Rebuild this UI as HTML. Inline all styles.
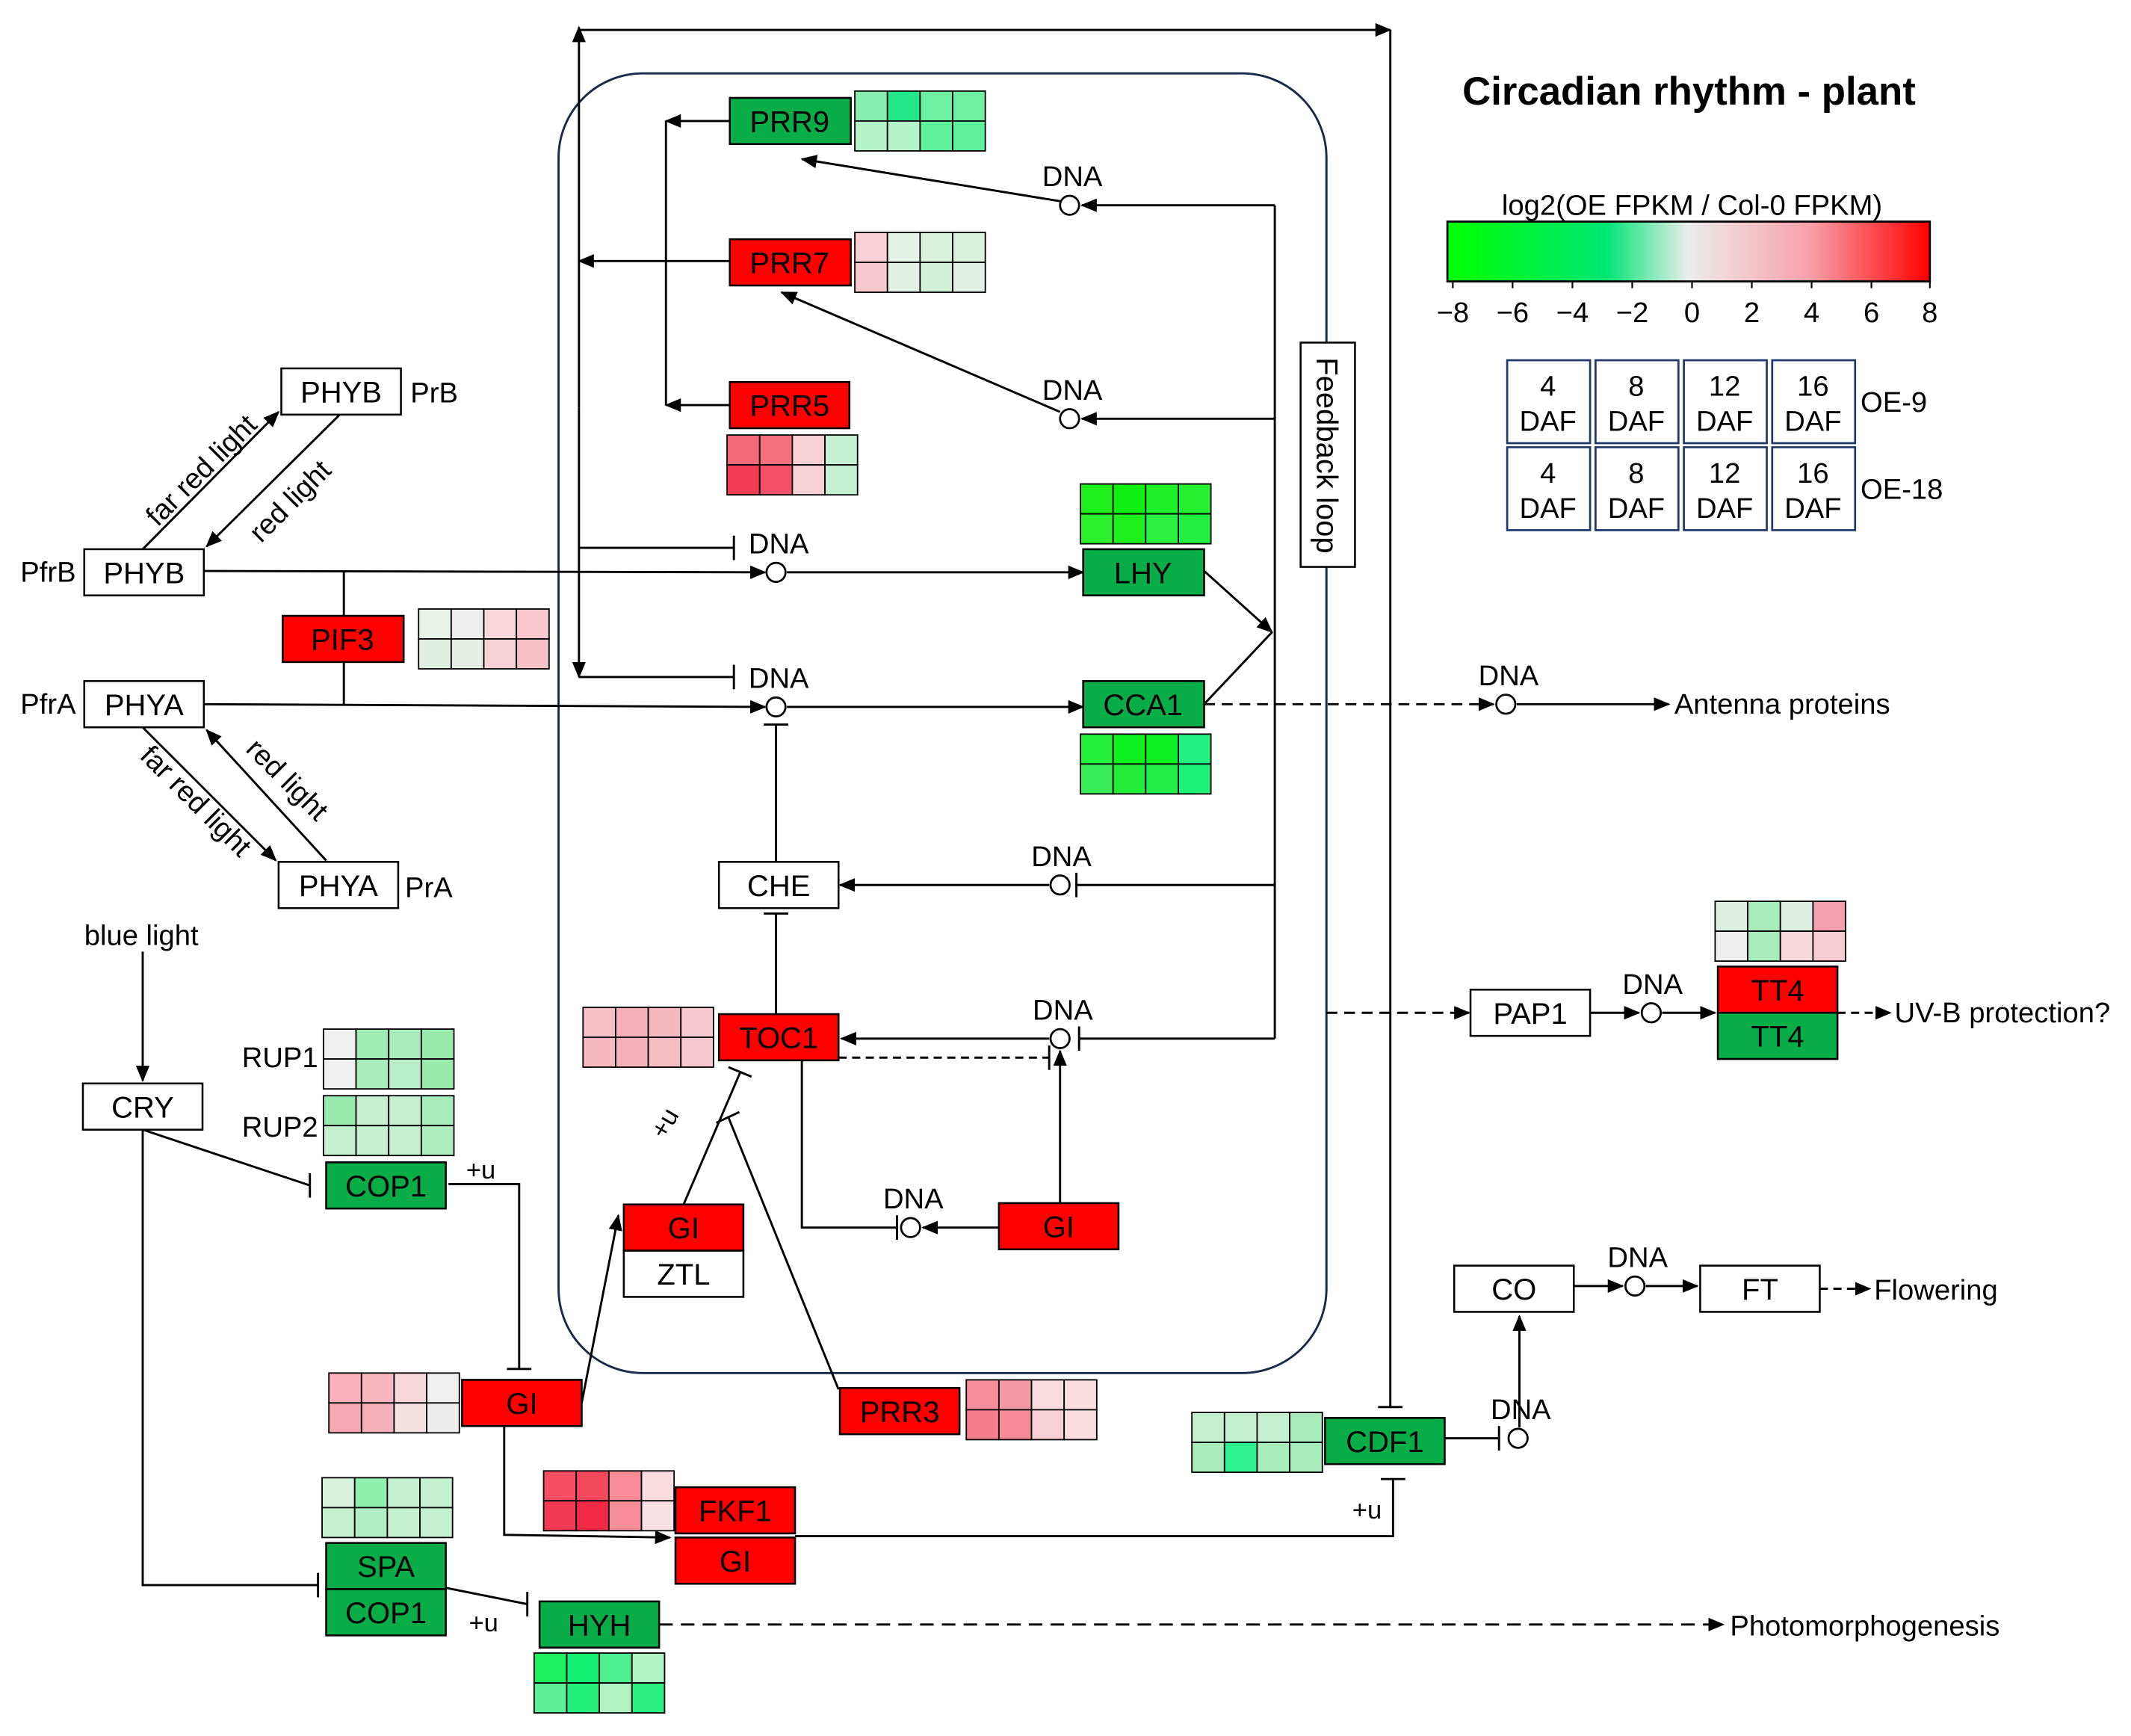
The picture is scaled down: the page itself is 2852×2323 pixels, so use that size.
<!DOCTYPE html>
<html><head><meta charset="utf-8"><style>
html,body{margin:0;padding:0;background:#fff;}
svg{display:block;}
text{font-family:"Liberation Sans",Arial,sans-serif;}
</style></head><body>
<svg width="2852" height="2323" viewBox="0 0 1568 1277" preserveAspectRatio="none" xmlns="http://www.w3.org/2000/svg">
<defs>
<marker id="a" markerUnits="userSpaceOnUse" markerWidth="12" markerHeight="10" refX="11" refY="5" orient="auto"><path d="M0,0 L12,5 L0,10 z" fill="#000"/></marker>
<linearGradient id="g" x1="0" x2="1" y1="0" y2="0">
<stop offset="0" stop-color="#00ff00"/><stop offset="0.33" stop-color="#00e676"/><stop offset="0.5" stop-color="#ececec"/><stop offset="0.75" stop-color="#f7a0aa"/><stop offset="1" stop-color="#ff0000"/></linearGradient>
</defs>
<rect width="1568" height="1277" fill="#fff"/>
<g stroke="#000" stroke-width="1.6" fill="none">
<rect x="411" y="54" width="565" height="956" rx="62" stroke="#1a2a4a"/>
<line x1="426" y1="22" x2="1023" y2="22" marker-end="url(#a)"/>
<line x1="426" y1="300" x2="426" y2="20" marker-end="url(#a)"/>
<line x1="426" y1="300" x2="426" y2="498" marker-end="url(#a)"/>
<line x1="1023" y1="22" x2="1023" y2="1035"/><line x1="1014" y1="1035" x2="1032" y2="1035"/>
<line x1="426" y1="403" x2="540" y2="403"/><line x1="540" y1="394" x2="540" y2="412"/>
<line x1="426" y1="498" x2="540" y2="498"/><line x1="540" y1="489" x2="540" y2="507"/>
<line x1="490" y1="89" x2="490" y2="298"/>
<line x1="537" y1="89" x2="490" y2="89" marker-end="url(#a)"/>
<line x1="537" y1="298" x2="490" y2="298" marker-end="url(#a)"/>
<line x1="537" y1="192" x2="426" y2="192" marker-end="url(#a)"/>
<line x1="938" y1="151" x2="938" y2="764"/>
<line x1="938" y1="151" x2="796" y2="151" marker-end="url(#a)"/>
<line x1="938" y1="308" x2="796" y2="308" marker-end="url(#a)"/>
<line x1="938" y1="651" x2="792" y2="651"/><line x1="792" y1="642" x2="792" y2="660"/>
<line x1="938" y1="764" x2="794" y2="764"/><line x1="794" y1="755" x2="794" y2="773"/>
<line x1="886" y1="420" x2="936" y2="465" marker-end="url(#a)"/>
<line x1="886" y1="518" x2="936" y2="465"/>
<line x1="780" y1="148" x2="590" y2="117" marker-end="url(#a)"/>
<line x1="780" y1="303" x2="575" y2="215" marker-end="url(#a)"/>
<line x1="150" y1="420" x2="563" y2="421" marker-end="url(#a)"/>
<line x1="579" y1="421" x2="797" y2="421" marker-end="url(#a)"/>
<line x1="150" y1="518" x2="563" y2="520" marker-end="url(#a)"/>
<line x1="579" y1="520" x2="797" y2="520" marker-end="url(#a)"/>
<line x1="253" y1="420" x2="253" y2="453"/><line x1="253" y1="487" x2="253" y2="518"/>
<line x1="105" y1="404" x2="205" y2="303" marker-end="url(#a)"/>
<line x1="250" y1="305" x2="152" y2="402" marker-end="url(#a)"/>
<line x1="105" y1="535" x2="203" y2="633" marker-end="url(#a)"/>
<line x1="240" y1="633" x2="152" y2="537" marker-end="url(#a)"/>
<line x1="571" y1="634" x2="571" y2="533"/><line x1="562" y1="533" x2="580" y2="533"/>
<line x1="772" y1="651" x2="618" y2="651" marker-end="url(#a)"/>
<line x1="571" y1="746" x2="571" y2="672"/><line x1="562" y1="672" x2="580" y2="672"/>
<line x1="772" y1="764" x2="619" y2="764" marker-end="url(#a)"/>
<line x1="617" y1="778" x2="772" y2="778" stroke-dasharray="6,4"/><line x1="772" y1="769" x2="772" y2="787"/>
<line x1="780" y1="885" x2="780" y2="773" marker-end="url(#a)"/>
<polyline points="590,780 590,903 660,903"/><line x1="660" y1="894" x2="660" y2="912"/>
<line x1="735" y1="903" x2="679" y2="903" marker-end="url(#a)"/>
<line x1="503" y1="886" x2="545" y2="788"/><line x1="536" y1="785" x2="553" y2="792"/>
<line x1="617" y1="1022" x2="536" y2="822"/><line x1="527" y1="826" x2="544" y2="818"/>
<line x1="428" y1="1032" x2="455" y2="894" marker-end="url(#a)"/>
<polyline points="330,871 382,871 382,1007"/><line x1="373" y1="1007" x2="391" y2="1007"/>
<line x1="105" y1="831" x2="228" y2="872"/><line x1="228" y1="863" x2="228" y2="881"/>
<polyline points="105,831 105,1166 234,1166"/><line x1="234" y1="1157" x2="234" y2="1175"/>
<line x1="105" y1="700" x2="105" y2="795" marker-end="url(#a)"/>
<line x1="328" y1="1168" x2="388" y2="1180"/><line x1="388" y1="1171" x2="388" y2="1189"/>
<line x1="485" y1="1195" x2="1268" y2="1195" stroke-dasharray="10,6" marker-end="url(#a)"/>
<polyline points="371,1049 371,1129 493,1131" marker-end="url(#a)"/>
<polyline points="585,1130 1025,1130 1025,1088"/><line x1="1016" y1="1088" x2="1034" y2="1088"/>
<line x1="1063" y1="1058" x2="1103" y2="1058"/><line x1="1103" y1="1049" x2="1103" y2="1067"/>
<line x1="1118" y1="1050" x2="1118" y2="968" marker-end="url(#a)"/>
<line x1="1158" y1="946" x2="1194" y2="946" marker-end="url(#a)"/>
<line x1="1211" y1="946" x2="1249" y2="946" marker-end="url(#a)"/>
<line x1="1339" y1="948" x2="1376" y2="948" stroke-dasharray="6,4" marker-end="url(#a)"/>
<line x1="886" y1="518" x2="1099" y2="518" stroke-dasharray="8,5" marker-end="url(#a)"/>
<line x1="1116" y1="518" x2="1228" y2="518" marker-end="url(#a)"/>
<line x1="976" y1="745" x2="1081" y2="745" stroke-dasharray="8,5" marker-end="url(#a)"/>
<line x1="1170" y1="745" x2="1206" y2="745" marker-end="url(#a)"/>
<line x1="1223" y1="745" x2="1262" y2="745" marker-end="url(#a)"/>
<line x1="1352" y1="745" x2="1391" y2="745" stroke-dasharray="6,4" marker-end="url(#a)"/>
</g>
<g stroke="#000" stroke-width="1.5" fill="#fff">
<circle cx="787" cy="151" r="7"/><circle cx="787" cy="308" r="7"/><circle cx="571" cy="421" r="7"/><circle cx="571" cy="520" r="7"/><circle cx="780" cy="651" r="7"/><circle cx="780" cy="764" r="7"/><circle cx="670" cy="903" r="7"/><circle cx="1108" cy="518" r="7"/><circle cx="1215" cy="745" r="7"/><circle cx="1203" cy="946" r="7"/><circle cx="1117" cy="1058" r="7"/>
</g>
<g font-size="21" fill="#000" text-anchor="middle">
<text x="789" y="137">DNA</text><text x="789" y="294">DNA</text><text x="573" y="407">DNA</text><text x="573" y="506">DNA</text><text x="781" y="637">DNA</text><text x="782" y="750">DNA</text><text x="672" y="889">DNA</text><text x="1110" y="504">DNA</text><text x="1216" y="731">DNA</text><text x="1205" y="932">DNA</text><text x="1119" y="1044">DNA</text>
</g>
<g stroke="#000" stroke-width="1.4">
<rect x="537" y="72" width="89" height="34" fill="#08ad48"/>
<rect x="537" y="176" width="89" height="34" fill="#ff0000"/>
<rect x="537" y="281" width="88" height="34" fill="#ff0000"/>
<rect x="797" y="404" width="89" height="34" fill="#08ad48"/>
<rect x="797" y="501" width="89" height="34" fill="#08ad48"/>
<rect x="208" y="453" width="89" height="34" fill="#ff0000"/>
<rect x="529" y="634" width="88" height="34" fill="#fff"/>
<rect x="529" y="746" width="88" height="34" fill="#ff0000"/>
<rect x="459" y="886" width="88" height="34" fill="#ff0000"/>
<rect x="459" y="920" width="88" height="34" fill="#fff"/>
<rect x="735" y="885" width="88" height="34" fill="#ff0000"/>
<rect x="618" y="1021" width="88" height="34" fill="#ff0000"/>
<rect x="340" y="1015" width="88" height="34" fill="#ff0000"/>
<rect x="497" y="1094" width="88" height="34" fill="#ff0000"/>
<rect x="497" y="1131" width="88" height="34" fill="#ff0000"/>
<rect x="240" y="1135" width="88" height="34" fill="#08ad48"/>
<rect x="240" y="1169" width="88" height="34" fill="#08ad48"/>
<rect x="397" y="1178" width="88" height="34" fill="#08ad48"/>
<rect x="240" y="855" width="88" height="34" fill="#08ad48"/>
<rect x="975" y="1043" width="88" height="34" fill="#08ad48"/>
<rect x="1264" y="711" width="88" height="34" fill="#ff0000"/>
<rect x="1264" y="745" width="88" height="34" fill="#08ad48"/>
<rect x="207" y="271" width="88" height="34" fill="#fff"/>
<rect x="62" y="404" width="88" height="34" fill="#fff"/>
<rect x="62" y="501" width="88" height="34" fill="#fff"/>
<rect x="205" y="634" width="88" height="34" fill="#fff"/>
<rect x="61" y="797" width="88" height="34" fill="#fff"/>
<rect x="1082" y="728" width="88" height="34" fill="#fff"/>
<rect x="1070" y="931" width="88" height="34" fill="#fff"/>
<rect x="1251" y="931" width="88" height="34" fill="#fff"/>
<rect x="957" y="252" width="40" height="165" fill="#fff"/>
</g>
<g font-size="22" fill="#000" text-anchor="middle">
<text x="581" y="97">PRR9</text><text x="581" y="201">PRR7</text><text x="581" y="306">PRR5</text><text x="841" y="429">LHY</text><text x="841" y="526">CCA1</text><text x="252" y="478">PIF3</text><text x="573" y="659">CHE</text><text x="573" y="771">TOC1</text><text x="503" y="911">GI</text><text x="503" y="945">ZTL</text><text x="779" y="910">GI</text><text x="662" y="1046">PRR3</text><text x="384" y="1040">GI</text><text x="541" y="1119">FKF1</text><text x="541" y="1156">GI</text><text x="284" y="1160">SPA</text><text x="284" y="1194">COP1</text><text x="441" y="1203">HYH</text><text x="284" y="880">COP1</text><text x="1019" y="1068">CDF1</text><text x="1308" y="736">TT4</text><text x="1308" y="770">TT4</text><text x="251" y="296">PHYB</text><text x="106" y="429">PHYB</text><text x="106" y="526">PHYA</text><text x="249" y="659">PHYA</text><text x="105" y="822">CRY</text><text x="1126" y="753">PAP1</text><text x="1114" y="956">CO</text><text x="1295" y="956">FT</text>
<text transform="translate(969,335) rotate(90)" x="0" y="0">Feedback loop</text>
</g>
<g font-size="21" fill="#000">
<text x="302" y="296">PrB</text><text x="15" y="428">PfrB</text><text x="15" y="525">PfrA</text><text x="298" y="660">PrA</text>
<text x="62" y="695">blue light</text><text x="178" y="785">RUP1</text><text x="178" y="836">RUP2</text>
<text x="343" y="867" font-size="19">+u</text><text x="345" y="1200" font-size="19">+u</text><text x="995" y="1117" font-size="19">+u</text>
<text transform="translate(500,820) rotate(-60)" font-size="19" text-anchor="end" dx="0">+u</text>
<text x="1232" y="525">Antenna proteins</text><text x="1394" y="752">UV-B protection?</text><text x="1379" y="956">Flowering</text><text x="1273" y="1203">Photomorphogenesis</text>
<text transform="translate(116,388) rotate(-45)">far red light</text>
<text transform="translate(192,400) rotate(-45)">red light</text>
<text transform="translate(102,557) rotate(45)">far red light</text>
<text transform="translate(180,552) rotate(45)">red light</text>
</g>
<text x="1076" y="77" font-size="29" font-weight="bold">Circadian rhythm - plant</text>
<text x="1245" y="158" font-size="21" text-anchor="middle">log2(OE FPKM / Col-0 FPKM)</text>
<rect x="1065" y="163" width="355" height="44" fill="url(#g)" stroke="#000" stroke-width="1.5"/>
<g stroke="#000" stroke-width="1.2"><line x1="1069" y1="207" x2="1069" y2="212"/><line x1="1113" y1="207" x2="1113" y2="212"/><line x1="1157" y1="207" x2="1157" y2="212"/><line x1="1201" y1="207" x2="1201" y2="212"/><line x1="1245" y1="207" x2="1245" y2="212"/><line x1="1289" y1="207" x2="1289" y2="212"/><line x1="1333" y1="207" x2="1333" y2="212"/><line x1="1377" y1="207" x2="1377" y2="212"/><line x1="1420" y1="207" x2="1420" y2="212"/></g>
<g font-size="21" text-anchor="middle"><text x="1069" y="237">−8</text><text x="1113" y="237">−6</text><text x="1157" y="237">−4</text><text x="1201" y="237">−2</text><text x="1245" y="237">0</text><text x="1289" y="237">2</text><text x="1333" y="237">4</text><text x="1377" y="237">6</text><text x="1420" y="237">8</text></g>
<g stroke="#1f3a6b" stroke-width="1.5" fill="#fff">
<rect x="1109" y="265" width="61" height="61"/><rect x="1174" y="265" width="61" height="61"/><rect x="1239" y="265" width="61" height="61"/><rect x="1304" y="265" width="61" height="61"/>
<rect x="1109" y="329" width="61" height="61"/><rect x="1174" y="329" width="61" height="61"/><rect x="1239" y="329" width="61" height="61"/><rect x="1304" y="329" width="61" height="61"/>
</g>
<g font-size="21" text-anchor="middle">
<text x="1139" y="291">4</text><text x="1139" y="317">DAF</text><text x="1204" y="291">8</text><text x="1204" y="317">DAF</text><text x="1269" y="291">12</text><text x="1269" y="317">DAF</text><text x="1334" y="291">16</text><text x="1334" y="317">DAF</text>
<text x="1139" y="355">4</text><text x="1139" y="381">DAF</text><text x="1204" y="355">8</text><text x="1204" y="381">DAF</text><text x="1269" y="355">12</text><text x="1269" y="381">DAF</text><text x="1334" y="355">16</text><text x="1334" y="381">DAF</text>
</g>
<text x="1369" y="303" font-size="21">OE-9</text><text x="1369" y="367" font-size="21">OE-18</text>
<g stroke="#000" stroke-width="1">
<rect x="629" y="67" width="24" height="22" fill="#86efaf"/><rect x="653" y="67" width="24" height="22" fill="#22e88a"/><rect x="677" y="67" width="24" height="22" fill="#6df0a4"/><rect x="701" y="67" width="24" height="22" fill="#6df0a4"/>
<rect x="629" y="89" width="24" height="22" fill="#b4f3c8"/><rect x="653" y="89" width="24" height="22" fill="#b4f3c8"/><rect x="677" y="89" width="24" height="22" fill="#5ef09a"/><rect x="701" y="89" width="24" height="22" fill="#5ef09a"/>
<rect x="629" y="171" width="24" height="22" fill="#f9d0d6"/><rect x="653" y="171" width="24" height="22" fill="#e6f1e8"/><rect x="677" y="171" width="24" height="22" fill="#d8f2de"/><rect x="701" y="171" width="24" height="22" fill="#d8f2de"/>
<rect x="629" y="193" width="24" height="22" fill="#f7c8cf"/><rect x="653" y="193" width="24" height="22" fill="#e2efe4"/><rect x="677" y="193" width="24" height="22" fill="#d0f0d8"/><rect x="701" y="193" width="24" height="22" fill="#e2efe4"/>
<rect x="535" y="320" width="24" height="22" fill="#f36a7a"/><rect x="559" y="320" width="24" height="22" fill="#f7707f"/><rect x="583" y="320" width="24" height="22" fill="#f7d0d6"/><rect x="607" y="320" width="24" height="22" fill="#c6f0d2"/>
<rect x="535" y="342" width="24" height="22" fill="#f43c55"/><rect x="559" y="342" width="24" height="22" fill="#f5506a"/><rect x="583" y="342" width="24" height="22" fill="#f5d0d6"/><rect x="607" y="342" width="24" height="22" fill="#c6f0d2"/>
<rect x="795" y="356" width="24" height="22" fill="#1ef01e"/><rect x="819" y="356" width="24" height="22" fill="#10f010"/><rect x="843" y="356" width="24" height="22" fill="#1ef02a"/><rect x="867" y="356" width="24" height="22" fill="#22f030"/>
<rect x="795" y="378" width="24" height="22" fill="#2bf02b"/><rect x="819" y="378" width="24" height="22" fill="#1ef01e"/><rect x="843" y="378" width="24" height="22" fill="#2bf040"/><rect x="867" y="378" width="24" height="22" fill="#22f040"/>
<rect x="795" y="540" width="24" height="22" fill="#22f03a"/><rect x="819" y="540" width="24" height="22" fill="#0ff020"/><rect x="843" y="540" width="24" height="22" fill="#0ff020"/><rect x="867" y="540" width="24" height="22" fill="#22f080"/>
<rect x="795" y="562" width="24" height="22" fill="#3aee5a"/><rect x="819" y="562" width="24" height="22" fill="#22ee3a"/><rect x="843" y="562" width="24" height="22" fill="#22ee4a"/><rect x="867" y="562" width="24" height="22" fill="#1ef07a"/>
<rect x="308" y="448" width="24" height="22" fill="#e8f2e8"/><rect x="332" y="448" width="24" height="22" fill="#eeeeee"/><rect x="356" y="448" width="24" height="22" fill="#f9d8dc"/><rect x="380" y="448" width="24" height="22" fill="#f9c8d0"/>
<rect x="308" y="470" width="24" height="22" fill="#dff0e2"/><rect x="332" y="470" width="24" height="22" fill="#e6efe6"/><rect x="356" y="470" width="24" height="22" fill="#f7d0d6"/><rect x="380" y="470" width="24" height="22" fill="#f5c0c8"/>
<rect x="429" y="741" width="24" height="22" fill="#f7c0c8"/><rect x="453" y="741" width="24" height="22" fill="#f5b0ba"/><rect x="477" y="741" width="24" height="22" fill="#f5b8c0"/><rect x="501" y="741" width="24" height="22" fill="#f7c8d0"/>
<rect x="429" y="763" width="24" height="22" fill="#f7b8c0"/><rect x="453" y="763" width="24" height="22" fill="#f5b0ba"/><rect x="477" y="763" width="24" height="22" fill="#f5bcc4"/><rect x="501" y="763" width="24" height="22" fill="#f7c8d0"/>
<rect x="711" y="1015" width="24" height="22" fill="#f58e9a"/><rect x="735" y="1015" width="24" height="22" fill="#f59aa5"/><rect x="759" y="1015" width="24" height="22" fill="#f9dce0"/><rect x="783" y="1015" width="24" height="22" fill="#fadde1"/>
<rect x="711" y="1037" width="24" height="22" fill="#f47e8c"/><rect x="735" y="1037" width="24" height="22" fill="#f48a96"/><rect x="759" y="1037" width="24" height="22" fill="#f7d0d6"/><rect x="783" y="1037" width="24" height="22" fill="#f9dde1"/>
<rect x="242" y="1010" width="24" height="22" fill="#f9b0ba"/><rect x="266" y="1010" width="24" height="22" fill="#f7b8c0"/><rect x="290" y="1010" width="24" height="22" fill="#f7d8dc"/><rect x="314" y="1010" width="24" height="22" fill="#efefef"/>
<rect x="242" y="1032" width="24" height="22" fill="#f7a8b4"/><rect x="266" y="1032" width="24" height="22" fill="#f5b0ba"/><rect x="290" y="1032" width="24" height="22" fill="#f5e0e2"/><rect x="314" y="1032" width="24" height="22" fill="#ececec"/>
<rect x="400" y="1082" width="24" height="22" fill="#f54e62"/><rect x="424" y="1082" width="24" height="22" fill="#f2495c"/><rect x="448" y="1082" width="24" height="22" fill="#f78c98"/><rect x="472" y="1082" width="24" height="22" fill="#f9dce0"/>
<rect x="400" y="1104" width="24" height="22" fill="#f23a52"/><rect x="424" y="1104" width="24" height="22" fill="#f02a44"/><rect x="448" y="1104" width="24" height="22" fill="#f58c98"/><rect x="472" y="1104" width="24" height="22" fill="#f9e0e4"/>
<rect x="237" y="1087" width="24" height="22" fill="#d8f2de"/><rect x="261" y="1087" width="24" height="22" fill="#8ff0b0"/><rect x="285" y="1087" width="24" height="22" fill="#c4f0d0"/><rect x="309" y="1087" width="24" height="22" fill="#c4f0d0"/>
<rect x="237" y="1109" width="24" height="22" fill="#c4f0d0"/><rect x="261" y="1109" width="24" height="22" fill="#b0f0c4"/><rect x="285" y="1109" width="24" height="22" fill="#c4f0d0"/><rect x="309" y="1109" width="24" height="22" fill="#c4f0d0"/>
<rect x="393" y="1216" width="24" height="22" fill="#1ef060"/><rect x="417" y="1216" width="24" height="22" fill="#12f070"/><rect x="441" y="1216" width="24" height="22" fill="#4cf090"/><rect x="465" y="1216" width="24" height="22" fill="#b0f4c4"/>
<rect x="393" y="1238" width="24" height="22" fill="#5ef094"/><rect x="417" y="1238" width="24" height="22" fill="#22f07a"/><rect x="441" y="1238" width="24" height="22" fill="#b0f4c4"/><rect x="465" y="1238" width="24" height="22" fill="#2cf080"/>
<rect x="238" y="757" width="24" height="22" fill="#efefef"/><rect x="262" y="757" width="24" height="22" fill="#a0eab4"/><rect x="286" y="757" width="24" height="22" fill="#a8ecbc"/><rect x="310" y="757" width="24" height="22" fill="#9aeab0"/>
<rect x="238" y="779" width="24" height="22" fill="#efefef"/><rect x="262" y="779" width="24" height="22" fill="#a8ecbc"/><rect x="286" y="779" width="24" height="22" fill="#b8efc8"/><rect x="310" y="779" width="24" height="22" fill="#9aeab0"/>
<rect x="238" y="806" width="24" height="22" fill="#9aeab0"/><rect x="262" y="806" width="24" height="22" fill="#c4f0d0"/><rect x="286" y="806" width="24" height="22" fill="#c4f0d0"/><rect x="310" y="806" width="24" height="22" fill="#a8ecbc"/>
<rect x="238" y="828" width="24" height="22" fill="#c4f0d0"/><rect x="262" y="828" width="24" height="22" fill="#c4f0d0"/><rect x="286" y="828" width="24" height="22" fill="#c4f0d0"/><rect x="310" y="828" width="24" height="22" fill="#b0eec0"/>
<rect x="877" y="1039" width="24" height="22" fill="#c4f0d0"/><rect x="901" y="1039" width="24" height="22" fill="#c4f0d0"/><rect x="925" y="1039" width="24" height="22" fill="#c4f0d0"/><rect x="949" y="1039" width="24" height="22" fill="#a8ecbc"/>
<rect x="877" y="1061" width="24" height="22" fill="#a8ecbc"/><rect x="901" y="1061" width="24" height="22" fill="#2ef090"/><rect x="925" y="1061" width="24" height="22" fill="#a8ecbc"/><rect x="949" y="1061" width="24" height="22" fill="#a8ecbc"/>
<rect x="1262" y="663" width="24" height="22" fill="#dcefe0"/><rect x="1286" y="663" width="24" height="22" fill="#a8ecbc"/><rect x="1310" y="663" width="24" height="22" fill="#dcefe0"/><rect x="1334" y="663" width="24" height="22" fill="#f5a0ae"/>
<rect x="1262" y="685" width="24" height="22" fill="#eeeeee"/><rect x="1286" y="685" width="24" height="22" fill="#a8ecbc"/><rect x="1310" y="685" width="24" height="22" fill="#f7d8dc"/><rect x="1334" y="685" width="24" height="22" fill="#f7ccd2"/>
</g>
</svg>
</body></html>
